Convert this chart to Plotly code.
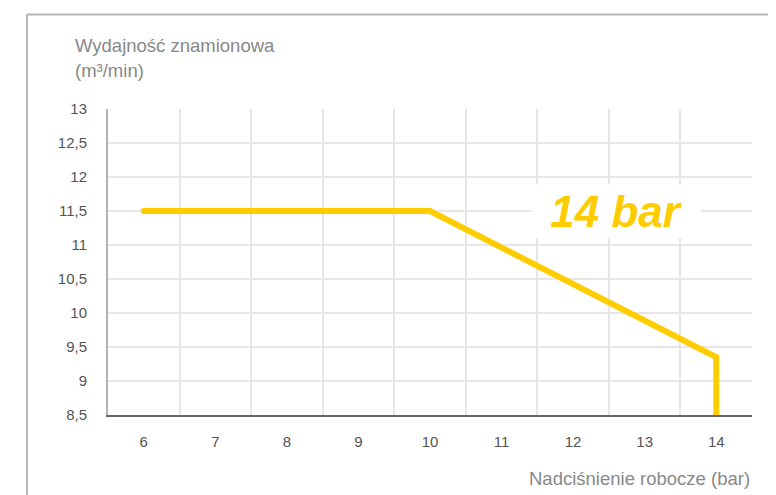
import plotly.graph_objects as go

# Data
pressure_bar = [6, 10, 14, 14]
capacity_m3min = [11.5, 11.5, 9.35, 8.5]

x_tick_vals = [6, 7, 8, 9, 10, 11, 12, 13, 14]
x_tick_text = ["6", "7", "8", "9", "10", "11", "12", "13", "14"]
x_grid_vals = [5.5, 6.5, 7.5, 8.5, 9.5, 10.5, 11.5, 12.5, 13.5, 14.5]
y_tick_vals = [8.5, 9, 9.5, 10, 10.5, 11, 11.5, 12, 12.5, 13]
y_tick_text = ["8,5", "9", "9,5", "10", "10,5", "11", "11,5", "12", "12,5", "13"]

series_label = "14 bar"
y_title_lines = ["Wydajność znamionowa", "(m³/min)"]
x_title = "Nadciśnienie robocze (bar)"

# page body has an 8px margin; compensate so the picture lands where intended
OFF = 8
W, H = 776 - OFF, 495 - OFF
ML, MR, MT, MB = 108 - OFF, 24, 109 - OFF, 80
PW, PH = W - ML - MR, H - MT - MB

def px_x(px):
    return (px - OFF - ML) / PW

def px_y(py):
    return (H - MB - (py - OFF)) / PH

FONT = "Liberation Sans, Arial, Helvetica, sans-serif"
YELLOW = "#FFCC00"

fig = go.Figure()
fig.add_trace(go.Scatter(
    x=pressure_bar, y=capacity_m3min,
    mode="lines+markers",
    line=dict(color=YELLOW, width=6),
    marker=dict(color=YELLOW, size=6),
    hoverinfo="skip",
    showlegend=False,
))

fig.update_layout(
    width=W, height=H,
    margin=dict(l=ML, r=MR, t=MT, b=MB, pad=0),
    paper_bgcolor="white", plot_bgcolor="white",
    font=dict(family=FONT, color="#555555", size=15),
    xaxis=dict(
        range=[5.5, 14.5], tickvals=x_tick_vals, ticktext=x_tick_text,
        showgrid=False, zeroline=False, ticks="",
        ticklabelstandoff=12,
        showline=True, linecolor="#666666", linewidth=1.5,
        minor=dict(tickvals=x_grid_vals, showgrid=True, gridcolor="#e6e6e6", gridwidth=1.5, ticks=""),
        tickfont=dict(size=15, color="#555555"),
        fixedrange=True,
    ),
    yaxis=dict(
        range=[8.5, 13], tickvals=y_tick_vals, ticktext=y_tick_text,
        showgrid=True, gridcolor="#e6e6e6", gridwidth=1.5, zeroline=False, ticks="",
        ticklabelstandoff=16,
        showline=True, linecolor="#b3b3b3", linewidth=2,
        tickfont=dict(size=15, color="#555555"),
        fixedrange=True,
    ),
    shapes=[
        dict(type="line", xref="paper", yref="paper",
             x0=px_x(27), x1=px_x(776), y0=px_y(14.5), y1=px_y(14.5),
             line=dict(color="#b5b5b5", width=2)),
        dict(type="line", xref="paper", yref="paper",
             x0=px_x(27), x1=px_x(27), y0=px_y(14.5), y1=px_y(495),
             line=dict(color="#b5b5b5", width=2)),
    ],
    annotations=[
        dict(text=y_title_lines[0], xref="paper", yref="paper",
             x=px_x(72.5), y=px_y(45), xanchor="left", yanchor="middle",
             showarrow=False, font=dict(size=18.5, color="#888888", family=FONT)),
        dict(text=y_title_lines[1], xref="paper", yref="paper",
             x=px_x(72.5), y=px_y(70), xanchor="left", yanchor="middle",
             showarrow=False, font=dict(size=18.5, color="#888888", family=FONT)),
        dict(text=x_title, xref="paper", yref="paper",
             x=1, y=px_y(478), xanchor="right", yanchor="middle",
             showarrow=False, font=dict(size=18.5, color="#888888", family=FONT)),
        dict(text="<b><i>" + series_label + "</i></b>", xref="x", yref="y",
             x=12.6, y=11.49, xanchor="center", yanchor="middle",
             showarrow=False, bgcolor="white", width=169, height=53, borderpad=0,
             font=dict(size=44, color=YELLOW, family=FONT)),
    ],
)

fig.write_html("out.html")
